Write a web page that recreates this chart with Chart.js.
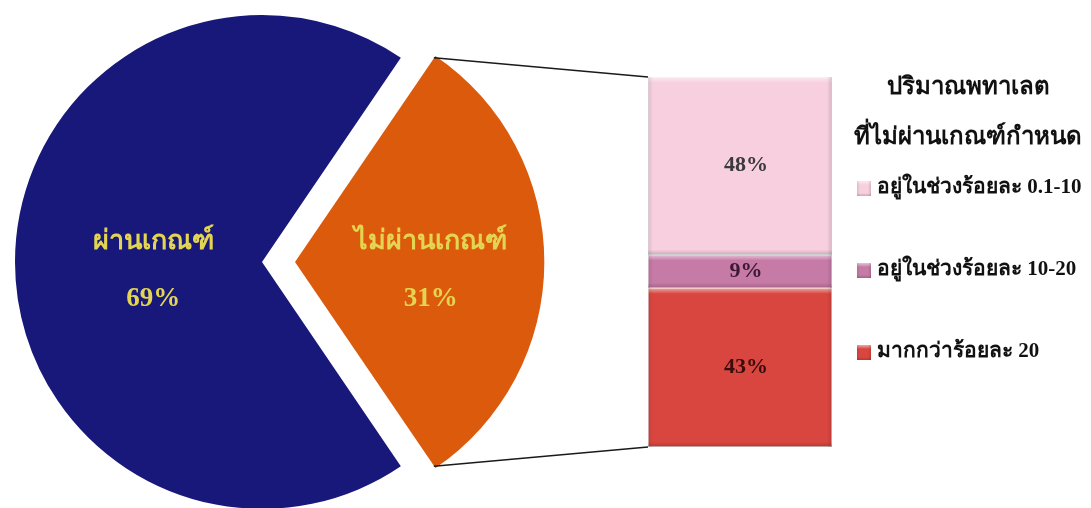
<!DOCTYPE html>
<html lang="th">
<head>
<meta charset="utf-8">
<script src="https://cdn.jsdelivr.net/npm/chart.js@4.4.1/dist/chart.umd.min.js"></script>
<style>
  html, body { margin: 0; padding: 0; background: #ffffff; overflow: hidden; }
  #wrap { position: relative; width: 1091px; height: 508px; }
  #wrap canvas { position: absolute; left: 0; top: 0; }
</style>
</head>
<body>
<div id="wrap">
  <canvas id="pie" width="1091" height="524"></canvas>
  <canvas id="bar" width="1091" height="508"></canvas>
</div>
<script>
// Pie: share of samples passing / failing the standard
const pieLabels = ['ผ่านเกณฑ์', 'ไม่ผ่านเกณฑ์'];
const pieValues = [69, 31];

// Bar: breakdown of the failing share by phthalate level (bottom to top)
const barLabels = ['มากกว่าร้อยละ 20', 'อยู่ในช่วงร้อยละ 10-20', 'อยู่ในช่วงร้อยละ 0.1-10'];
const barValues = [43, 9, 48];

const legendTitle = ['ปริมาณพทาเลต', 'ที่ไม่ผ่านเกณฑ์กำหนด'];

const FONT = "'Liberation Serif', 'DejaVu Serif', serif";

// Pie colours and label styling
const pieColors = ['#17187a', '#dc5a0c'];
const pieLabelColor = '#e3d552';
const pieLabelRadius = [0.44, 0.55];
// Chart.js moves an arc by a quarter of its "offset" option
const sliceShift = [0, 33];
const pieOffsets = sliceShift.map(s => s * 4);

// Bar colours
const barColors = ['#d9463f', '#c67aa6', '#f8cfdf'];
const barTextColors = ['#3a0c0c', '#3d1a33', '#3a3a3a'];

// Orange slice sits centred on the 3 o'clock direction
const failSweep = pieValues[1] / pieValues.reduce((a, b) => a + b, 0) * 360;
const pieRotation = 90 + failSweep / 2;

const pieLabelPlugin = {
  id: 'pieLabels',
  afterDatasetsDraw(chart) {
    const ctx = chart.ctx;
    const meta = chart.getDatasetMeta(0);
    const total = pieValues.reduce((a, b) => a + b, 0);
    meta.data.forEach((arc, i) => {
      const mid = (arc.startAngle + arc.endAngle) / 2;
      const off = sliceShift[i];
      const cx = arc.x + Math.cos(mid) * off;
      const cy = arc.y + Math.sin(mid) * off;
      const rr = arc.outerRadius * pieLabelRadius[i];
      const lx = cx + Math.cos(mid) * rr;
      const ly = cy + Math.sin(mid) * rr;
      ctx.save();
      ctx.fillStyle = pieLabelColor;
      ctx.textAlign = 'center';
      ctx.textBaseline = 'middle';
      ctx.font = 'bold 27px ' + FONT;
      ctx.fillText(pieLabels[i], lx, ly - 20);
      ctx.fillText(Math.round(pieValues[i] / total * 100) + '%', lx, ly + 37);
      ctx.restore();
    });
  }
};

const pieChart = new Chart(document.getElementById('pie'), {
  type: 'pie',
  data: {
    labels: pieLabels,
    datasets: [{
      data: pieValues,
      backgroundColor: pieColors,
      borderWidth: 0,
      offset: pieOffsets
    }]
  },
  options: {
    responsive: false,
    animation: false,
    rotation: pieRotation,
    radius: 247,
    layout: { padding: { left: 0, top: 0, right: 1091 - 524, bottom: 0 } },
    plugins: { legend: { display: false }, tooltip: { enabled: false } }
  },
  plugins: [pieLabelPlugin]
});

// Soft bevel on a rectangle
function bevelRect(ctx, l, t, r, bt, edge) {
  ctx.save();
  let g = ctx.createLinearGradient(0, t, 0, t + edge + 1);
  g.addColorStop(0, 'rgba(255,255,255,0.55)');
  g.addColorStop(1, 'rgba(255,255,255,0)');
  ctx.fillStyle = g;
  ctx.fillRect(l, t, r - l, edge + 1);
  g = ctx.createLinearGradient(0, bt - edge, 0, bt);
  g.addColorStop(0, 'rgba(0,0,0,0)');
  g.addColorStop(1, 'rgba(0,0,0,0.18)');
  ctx.fillStyle = g;
  ctx.fillRect(l, bt - edge, r - l, edge);
  g = ctx.createLinearGradient(r - edge, 0, r, 0);
  g.addColorStop(0, 'rgba(0,0,0,0)');
  g.addColorStop(1, 'rgba(0,0,0,0.14)');
  ctx.fillStyle = g;
  ctx.fillRect(r - edge, t, edge, bt - t);
  g = ctx.createLinearGradient(l, 0, l + edge, 0);
  g.addColorStop(0, 'rgba(0,0,0,0.10)');
  g.addColorStop(1, 'rgba(0,0,0,0)');
  ctx.fillStyle = g;
  ctx.fillRect(l, t, edge, bt - t);
  ctx.restore();
}

// Connector lines, segment labels and the side legend
const barExtras = {
  id: 'barExtras',
  afterDatasetsDraw(chart) {
    const ctx = chart.ctx;
    const n = chart.data.datasets.length;
    chart.data.datasets.forEach((ds, i) => {
      const b = chart.getDatasetMeta(i).data[0];
      bevelRect(ctx, b.x - b.width / 2, Math.min(b.y, b.base), b.x + b.width / 2, Math.max(b.y, b.base), 5);
      ctx.save();
      ctx.fillStyle = barTextColors[i];
      ctx.font = 'bold 22px ' + FONT;
      ctx.textAlign = 'center';
      ctx.textBaseline = 'middle';
      ctx.fillText(ds.data[0] + '%', b.x + 6, (b.y + b.base) / 2);
      ctx.restore();
    });

    // connectors from the exploded slice to the bar edges
    const arc = pieChart.getDatasetMeta(0).data[1];
    const off = sliceShift[1];
    const mid = (arc.startAngle + arc.endAngle) / 2;
    const cx = arc.x + Math.cos(mid) * off;
    const cy = arc.y + Math.sin(mid) * off;
    const r = arc.outerRadius;
    const p1 = [cx + Math.cos(arc.startAngle) * r, cy + Math.sin(arc.startAngle) * r];
    const p2 = [cx + Math.cos(arc.endAngle) * r, cy + Math.sin(arc.endAngle) * r];
    const topBar = chart.getDatasetMeta(n - 1).data[0];
    const botBar = chart.getDatasetMeta(0).data[0];
    const left = topBar.x - topBar.width / 2;
    ctx.save();
    ctx.strokeStyle = '#1a1a1a';
    ctx.lineWidth = 1.5;
    ctx.beginPath();
    ctx.moveTo(p1[0], p1[1]); ctx.lineTo(left, topBar.y);
    ctx.moveTo(p2[0], p2[1]); ctx.lineTo(left, botBar.base);
    ctx.stroke();
    ctx.restore();

    // legend
    ctx.save();
    ctx.fillStyle = '#111111';
    ctx.textAlign = 'center';
    ctx.textBaseline = 'middle';
    ctx.font = 'bold 24px ' + FONT;
    ctx.fillText(legendTitle[0], 968, 88);
    ctx.fillText(legendTitle[1], 968, 138);
    const rows = [188, 270, 352];
    ctx.textAlign = 'left';
    ctx.font = 'bold 21px ' + FONT;
    for (let k = 0; k < n; k++) {
      const i = n - 1 - k;
      const ds = chart.data.datasets[i];
      ctx.fillStyle = ds.backgroundColor;
      ctx.fillRect(857, rows[k] - 7, 14, 15);
      bevelRect(ctx, 857, rows[k] - 7, 871, rows[k] + 8, 3);
      ctx.fillStyle = '#111111';
      ctx.fillText(ds.label, 877, rows[k]);
    }
    ctx.restore();
  }
};

new Chart(document.getElementById('bar'), {
  type: 'bar',
  data: {
    labels: [''],
    datasets: barLabels.map((label, i) => ({
      label: label,
      data: [barValues[i]],
      backgroundColor: barColors[i],
      borderColor: 'rgba(0,0,0,0.08)',
      borderWidth: 1,
      borderSkipped: false,
      barPercentage: 1,
      categoryPercentage: 1
    }))
  },
  options: {
    responsive: false,
    animation: false,
    layout: { padding: { left: 648, right: 1091 - 832, top: 77, bottom: 508 - 447 } },
    scales: {
      x: { stacked: true, display: false },
      y: { stacked: true, display: false, min: 0, max: 100 }
    },
    plugins: { legend: { display: false }, tooltip: { enabled: false } }
  },
  plugins: [barExtras]
});
</script>
</body>
</html>
